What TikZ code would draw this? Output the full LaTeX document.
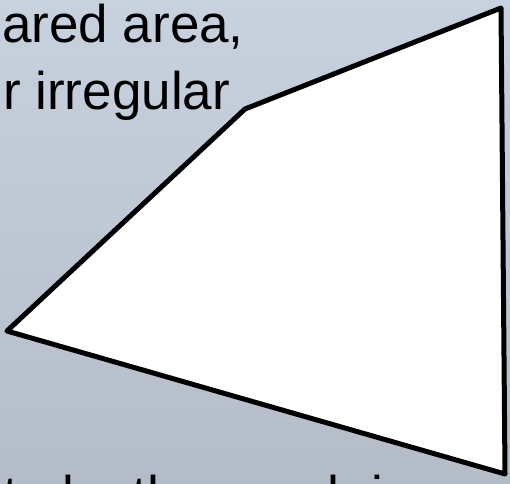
\documentclass[tikz,border=0pt]{standalone}
\usepackage{fontspec}
\setmainfont{Liberation Sans}
\definecolor{bgtop}{RGB}{200,210,223}
\definecolor{bgbot}{RGB}{180,188,200}
\begin{document}
\begin{tikzpicture}[x=1bp,y=-1bp,
  txt/.style={anchor=base west, inner sep=0pt, font=\fontsize{53bp}{67bp}\selectfont, text=black},
  outline/.style={draw=black, fill=white, line width=5bp, line join=round}]
\useasboundingbox (0,0) rectangle (510,484);
\clip (0,0) rectangle (510,484);
\shade[top color=bgtop, bottom color=bgbot] (0,0) rectangle (510,484);
\node[txt] (l1) at (2,43) {ared area,};
\node[txt] (l2) at (3,110) {r irregular};
\node[txt] (l3) at (3,513) {to by the graph is a};
\draw[outline] (501,8) -- (245,109) -- (7,331) -- (505,474) -- cycle;
\end{tikzpicture}
\end{document}
